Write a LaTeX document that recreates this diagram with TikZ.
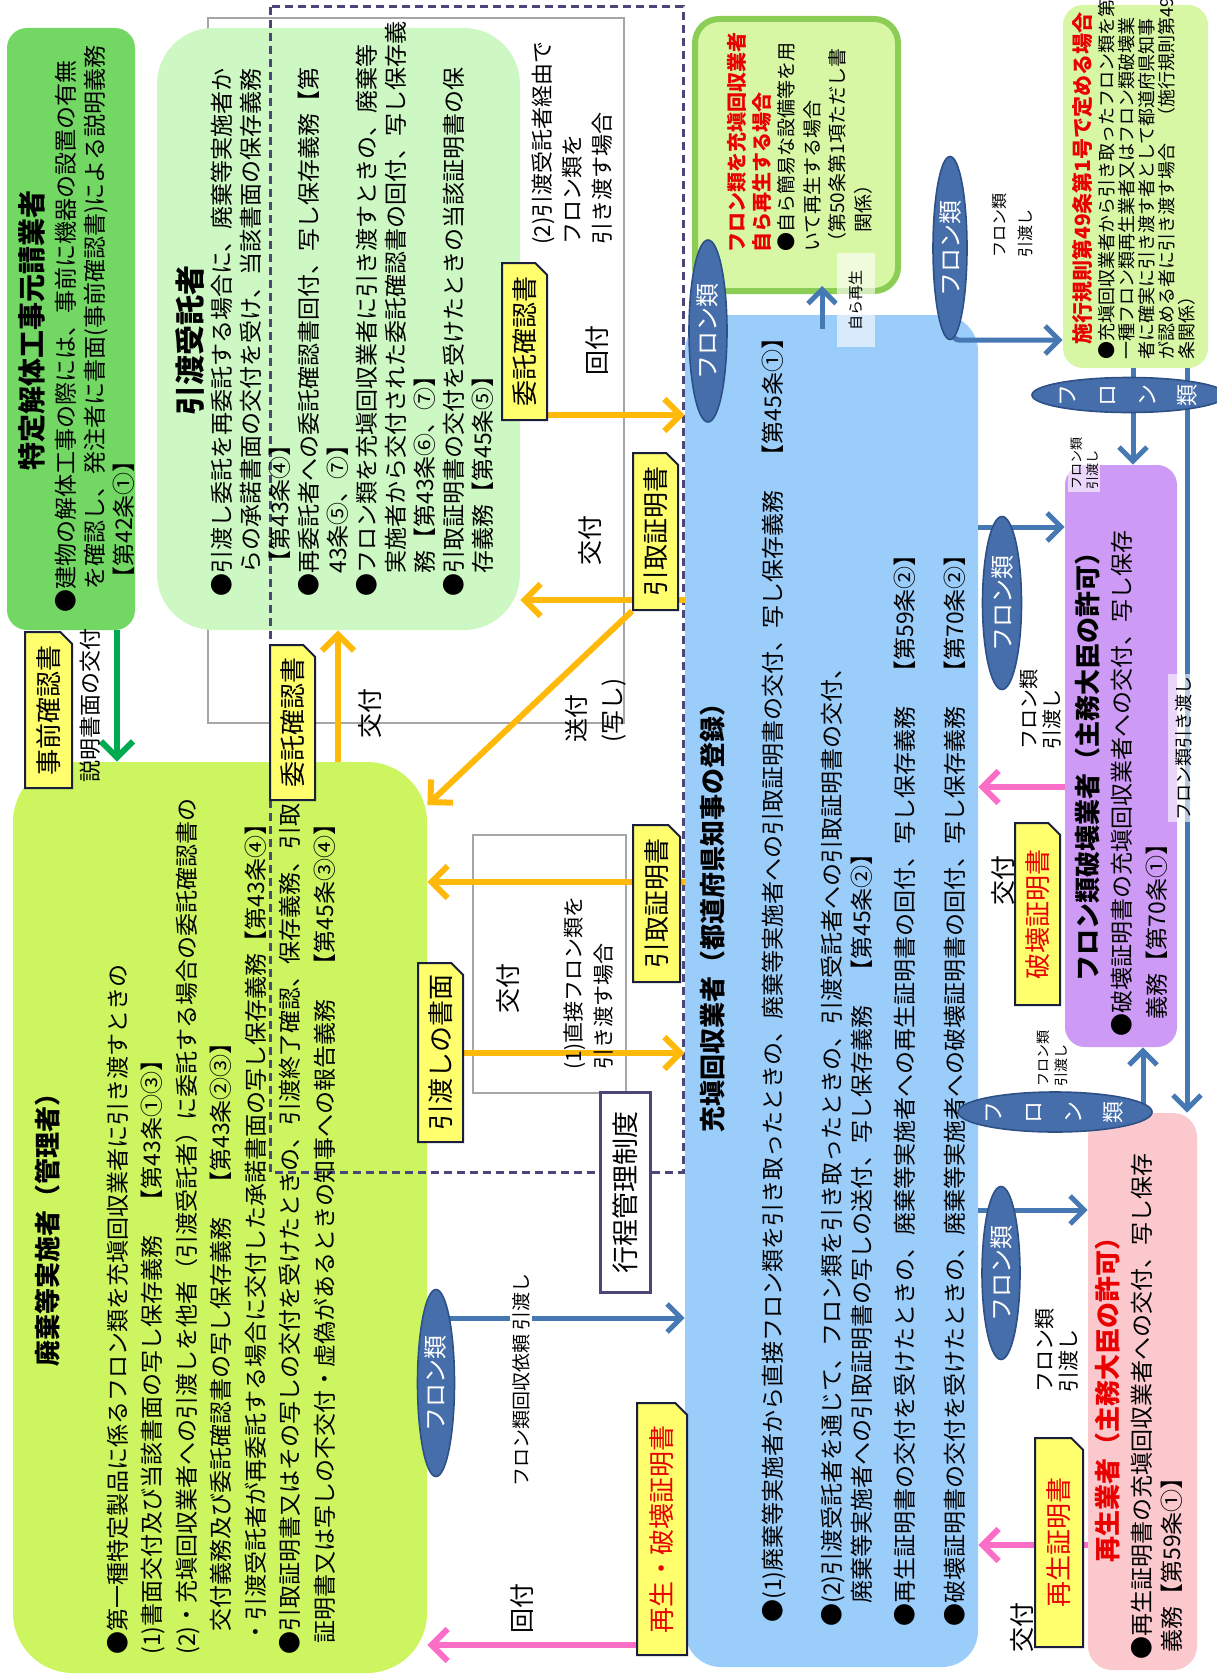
\documentclass[tikz,border=0pt]{standalone}
\usepackage{fontspec}
\newfontfamily\jp{Noto Sans CJK JP}
\usetikzlibrary{positioning,fit,shapes.geometric,shapes.misc,arrows.meta}

\definecolor{motoukeG}{RGB}{115,215,100}
\definecolor{jutakuG}{RGB}{205,248,195}
\definecolor{haikiG}{RGB}{205,245,95}
\definecolor{kaishuB}{RGB}{155,205,250}
\definecolor{jisaiG}{RGB}{215,247,165}
\definecolor{jisaiL}{RGB}{140,205,85}
\definecolor{hakaiP}{RGB}{205,155,245}
\definecolor{saiseiP}{RGB}{250,200,205}
\definecolor{noteY}{RGB}{255,255,110}
\definecolor{noteL}{RGB}{25,30,60}
\definecolor{arrO}{RGB}{255,185,10}
\definecolor{arrB}{RGB}{70,120,180}
\definecolor{arrP}{RGB}{250,110,200}
\definecolor{arrG}{RGB}{0,170,80}
\definecolor{ellB}{RGB}{70,110,170}
\definecolor{ellL}{RGB}{45,80,135}
\definecolor{dashL}{RGB}{75,70,120}
\definecolor{redT}{RGB}{235,0,0}

\begin{document}
\begin{tikzpicture}[x=0.5pt,y=-0.5pt,
	box/.style={inner sep=0pt, rounded corners=#1},
	txt/.style={rotate=90, inner sep=0pt, align=left, anchor=north west},
	ttl/.style={rotate=90, inner sep=0pt, font=\jp\bfseries\fontsize{13}{15}\selectfont},
	lab/.style={rotate=90, inner sep=0pt, font=\jp\fontsize{12.5}{14}\selectfont},
	note/.style={rotate=90, chamfered rectangle, chamfered rectangle corners=south east,
		chamfered rectangle xsep=3pt, draw=noteL, fill=noteY, line width=1pt,
		inner sep=0pt, font=\jp\fontsize{13}{15}\selectfont},
	flon/.style={ellipse, rotate=90, fill=ellB, draw=ellL, line width=0.8pt,
		text=white, inner sep=0pt, font=\jp\fontsize{12}{14}\selectfont},
	veil/.style={fill=white, fill opacity=0.6, text opacity=1, inner sep=1pt},
	oarr/.style={draw=arrO, line width=3pt, -{Straight Barb[length=8pt,width=16pt]}},
	barr/.style={draw=arrB, line width=2.5pt, -{Straight Barb[length=7pt,width=14pt]}},
	parr/.style={draw=arrP, line width=3pt, -{Straight Barb[length=8pt,width=16pt]}},
	garr/.style={draw=arrG, line width=3pt, -{Straight Barb[length=8pt,width=16pt]}}]
	\useasboundingbox (0,0) rectangle (1216,1675);
	
	% thin frames of the two cases
	\draw[gray!70, line width=0.6pt] (208,18) rectangle (624,723);
	\draw[gray!70, line width=0.6pt] (473,835) rectangle (626,1093);
	
	% boxes
	\node[box=10pt, fill=motoukeG, fit={(7,28) (135,630)}] (motouke) {};
	\node[box=28pt, fill=jutakuG, fit={(157,28) (520,630)}] (jutaku) {};
	\node[box=30pt, fill=haikiG, fit={(13,762) (427,1673)}] (haiki) {};
	\node[box=18pt, fill=kaishuB, fit={(685,315) (978,1667)}] (kaishu) {};
	\node[box=12pt, fill=jisaiG, draw=jisaiL, line width=3pt, fit={(695,19) (898,291)}] (jisai) {};
	\node[box=10pt, fill=jisaiG, fit={(1063,5) (1208,368)}] (sekou) {};
	\node[box=10pt, fill=hakaiP, fit={(1065,465) (1177,1047)}] (hakai) {};
	\node[box=12pt, fill=saiseiP, fit={(1088,1113) (1197,1670)}] (saisei) {};
	
	\draw[dashL, line width=1.5pt, dash pattern=on 4pt off 2.5pt] (270,7) rectangle (683,1172);
	
	% texts of the boxes
	\node[ttl, font=\jp\bfseries\fontsize{14}{16}\selectfont] (motoukeT) at (32,330) {特定解体工事元請業者};
	\node[txt, font=\jp\fontsize{11.5}{14.5}\selectfont] (motoukeB) at (54.5,613)
		{●建物の解体工事の際には、事前に機器の設置の有無\\
		　を確認し、発注者に書面(事前確認書)による説明義務\\
		　【第42条①】};
	
	\node[ttl, font=\jp\bfseries\fontsize{15}{17}\selectfont] (jutakuT) at (190,340) {引渡受託者};
	\node[txt, font=\jp\fontsize{11.5}{14.5}\selectfont] (jutakuB) at (210.5,597)
		{●引渡し委託を再委託する場合に、廃棄等実施者か\\
		　らの承諾書面の交付を受け、当該書面の保存義務\\
		　【第43条④】\\
		●再委託者への委託確認書回付、写し保存義務【第\\
		　43条⑤、⑦】\\
		●フロン類を充塡回収業者に引き渡すときの、廃棄等\\
		　実施者から交付された委託確認書の回付、写し保存義\\
		　務【第43条⑥、⑦】\\
		●引取証明書の交付を受けたときの当該証明書の保\\
		　存義務【第45条⑤】};
	
	\node[ttl] (haikiT) at (48,1223) {廃棄等実施者（管理者）};
	\node[txt, font=\jp\fontsize{11.5}{17.25}\selectfont] (haikiB) at (106.5,1655)
		{●第一種特定製品に係るフロン類を充塡回収業者に引き渡すときの\\
		(1)書面交付及び当該書面の写し保存義務　【第43条①③】\\
		(2)・充塡回収業者への引渡しを他者（引渡受託者）に委託する場合の委託確認書の\\
		　交付義務及び委託確認書の写し保存義務　【第43条②③】\\
		\hspace*{0.5em}・引渡受託者が再委託する場合に交付した承諾書面の写し保存義務【第43条④】\\
		●引取証明書又はその写しの交付を受けたときの、引渡終了確認、保存義務、引取\\
		\hspace*{0.5em}証明書又は写しの不交付・虚偽があるときの知事への報告義務　【第45条③④】};
	
	\node[ttl] (kaishuT) at (713,911) {充塡回収業者（都道府県知事の登録）};
	\node[txt, font=\jp\fontsize{11.5}{15}\selectfont] (kaishuB1) at (761.5,1623)
		{●(1)廃棄等実施者から直接フロン類を引き取ったときの、廃棄等実施者への引取証明書の交付、写し保存義務　【第45条①】};
	\node[txt, font=\jp\fontsize{11.5}{15}\selectfont] (kaishuB2) at (820.5,1627)
		{●(2)引渡受託者を通じて、フロン類を引き取ったときの、引渡受託者への引取証明書の交付、\\
		　廃棄等実施者への引取証明書の写しの送付、写し保存義務　【第45条②】};
	\node[txt, font=\jp\fontsize{11.5}{15}\selectfont] (kaishuB3) at (893.5,1627)
		{●再生証明書の交付を受けたときの、廃棄等実施者への再生証明書の回付、写し保存義務　【第59条②】};
	\node[txt, font=\jp\fontsize{11.5}{15}\selectfont] (kaishuB4) at (943.5,1627)
		{●破壊証明書の交付を受けたときの、廃棄等実施者への破壊証明書の回付、写し保存義務　【第70条②】};
	
	\node[txt, text=redT, font=\jp\bfseries\fontsize{10}{12.5}\selectfont] (jisaiT) at (727,253)
		{フロン類を充塡回収業者\\自ら再生する場合};
	\node[txt, font=\jp\fontsize{9.5}{12.7}\selectfont] (jisaiB) at (777.5,252)
		{●自ら簡易な設備等を用\\いて再生する場合\\（第50条第1項ただし書\\　関係）};
	
	\node[txt, text=redT, font=\jp\bfseries\fontsize{10.5}{12.5}\selectfont] (sekouT) at (1071.5,345)
		{施行規則第49条第1号で定める場合};
	\node[txt, font=\jp\fontsize{9}{10}\selectfont] (sekouB) at (1098,360)
		{●充塡回収業者から引き取ったフロン類を第\\
		一種フロン類再生業者又はフロン類破壊業\\
		者に確実に引き渡す者として都道府県知事\\
		が認める者に引き渡す場合　（施行規則第49\\
		条関係）};
	
	\node[ttl] (hakaiT) at (1088,760) {フロン類破壊業者（主務大臣の許可）};
	\node[txt, font=\jp\fontsize{11.5}{17.5}\selectfont] (hakaiB) at (1110.5,1037)
		{●破壊証明書の充塡回収業者への交付、写し保存\\
		\hspace*{0.75em}義務【第70条①】};
	
	\node[ttl, text=redT] (saiseiT) at (1108,1393) {再生業者（主務大臣の許可）};
	\node[txt, font=\jp\fontsize{11.5}{15}\selectfont] (saiseiB) at (1130.5,1660)
		{●再生証明書の充塡回収業者への交付、写し保存\\
		\hspace*{0.3em}義務【第59条①】};
	
	% connectors
	\draw[garr] (motouke.south -| 117,0) -- (haiki.north -| 117,0);
	\draw[oarr] (haiki.north -| 338,0) -- (jutaku.south -| 338,0);
	\draw[oarr] (jutaku.east |- 0,415) -- (kaishu.west |- 0,415);
	\draw[oarr] (kaishu.west |- 0,600) -- (jutaku.east |- 0,600);
	\draw[oarr] (kaishu.west |- 0,882) -- (haiki.east |- 0,882);
	\draw[oarr] (haiki.east |- 0,1053) -- (kaishu.west |- 0,1053);
	\draw[barr] (haiki.east |- 0,1318) -- (kaishu.west |- 0,1318);
	\draw[parr] (kaishu.west |- 0,1645) -- (haiki.east |- 0,1645);
	\draw[barr] ([yshift=-7pt]kaishu.north -| 822,0) -- ([yshift=4pt]jisai.south -| 822,0);
	\draw[barr, rounded corners=3pt] (kaishu.north -| 953,0) |- (sekou.west |- 0,340);
	\draw[barr] (kaishu.east |- 0,527) -- (hakai.west |- 0,527);
	\draw[barr] (kaishu.east |- 0,1210) -- (saisei.west |- 0,1210);
	\draw[barr] (sekou.south -| 1133,0) -- (hakai.north -| 1133,0);
	\draw[barr] (sekou.south -| 1187,0) -- (saisei.north -| 1187,0);
	\draw[barr] (saisei.north -| 1143,0) -- (hakai.south -| 1143,0);
	\draw[parr] (hakai.west |- 0,787) -- (kaishu.east |- 0,787);
	\draw[parr] (saisei.west |- 0,1545) -- (kaishu.east |- 0,1545);
	
	% documents
	\node[note, minimum width=78pt, minimum height=23.5pt] (maekaku) at (48.5,710) {事前確認書};
	\node[note, minimum width=77.5pt, minimum height=22.5pt] (itaku1) at (292.5,722.5) {委託確認書};
	\node[note, minimum width=78.5pt, minimum height=22.5pt] (itaku2) at (524.5,341.5) {委託確認書};
	\node[note, minimum width=78.5pt, minimum height=22.5pt] (tori1) at (655.5,531.5) {引取証明書};
	\node[note, minimum width=78.5pt, minimum height=23.5pt] (tori2) at (656.5,903.5) {引取証明書};
	\node[note, minimum width=89.5pt, minimum height=22.5pt] (shomen) at (440.5,1052.5) {引渡しの書面};
	\node[note, text=redT, minimum width=126pt, minimum height=25pt] (saihaK) at (662,1529) {再生・破壊証明書};
	\node[note, text=redT, minimum width=91pt, minimum height=22.5pt] (hakaiK) at (1037.5,914) {破壊証明書};
	\node[note, text=redT, minimum width=104.5pt, minimum height=24pt] (saiseiK) at (1059,1542.5) {再生証明書};
	
	\draw[oarr] (tori1.north west) -- (haiki.east |- 0,805);
	
	% flon ellipses
	\node[flon, minimum width=91pt, minimum height=19pt] (fl1) at (708,331) {フロン類};
	\node[flon, minimum width=91.5pt, minimum height=17pt] (fl2) at (950,248) {フロン類};
	\node[flon, align=center, minimum width=17.5pt, minimum height=84pt,
		font=\jp\fontsize{11}{20}\selectfont] (fl3) at (1129,395) {フ\\ロ\\ン\\類};
	\node[flon, align=center, minimum width=20pt, minimum height=85pt,
		font=\jp\fontsize{11}{20}\selectfont] (fl4) at (1055,1112) {フ\\ロ\\ン\\類};
	\node[flon, minimum width=86.5pt, minimum height=19.5pt] (fl5) at (1002,603) {フロン類};
	\node[flon, minimum width=86.5pt, minimum height=19pt] (fl6) at (1001,1273) {フロン類};
	\node[flon, minimum width=93.5pt, minimum height=18.5pt] (fl7) at (436,1383) {フロン類};
	
	% labels of the connectors
	\node[lab, font=\jp\fontsize{11}{13}\selectfont] (setsumei) at (90,705) {説明書面の交付};
	\node[lab] (kofu1) at (370,713) {交付};
	\node[txt, font=\jp\fontsize{11}{15}\selectfont] (case2) at (532,245)
		{(2)引渡受託者経由で\\フロン類を\\引き渡す場合};
	\node[lab] (kaifu1) at (597,350) {回付};
	\node[lab] (kofu2) at (590,540) {交付};
	\node[txt, font=\jp\fontsize{12}{18}\selectfont] (sofu) at (565,743) {送付\\(写し)};
	\node[lab] (kofu3) at (508,988) {交付};
	\node[txt, font=\jp\fontsize{10.5}{15}\selectfont] (case1) at (563,1070)
		{(1)直接フロン類を\\引き渡す場合};
	\node[lab, fill=white, inner sep=1pt, font=\jp\fontsize{9.5}{11}\selectfont] (irai) at (521,1380) {フロン類回収依頼 引渡し};
	\node[lab] (kaifu2) at (522,1608) {回付};
	\node[lab] (kofu4) at (1003,880) {交付};
	\node[lab] (kofu5) at (1022,1627) {交付};
	\node[lab, veil, minimum width=47pt, minimum height=19pt, font=\jp\fontsize{7.5}{9}\selectfont] (jisaisei) at (856,300) {自ら再生};
	\node[lab, veil, minimum width=74pt, minimum height=16.5pt, font=\jp\fontsize{9}{11}\selectfont] (hikiwatashi) at (1184,748) {フロン類引き渡し};
	\node[txt, veil, align=left, font=\jp\fontsize{6.5}{8}\selectfont] (w3) at (1068,492) {フロン類\\引渡し};
	\node[txt, font=\jp\fontsize{8}{13}\selectfont] (w2) at (992,258) {フロン類\\引渡し};
	\node[txt, font=\jp\fontsize{10}{11.5}\selectfont] (w5) at (1020,750) {フロン類\\引渡し};
	\node[txt, font=\jp\fontsize{10.5}{12}\selectfont] (w6) at (1035,1393) {フロン類\\引渡し};
	\node[txt, font=\jp\fontsize{7}{9}\selectfont] (w4) at (1036,1087) {フロン類\\引渡し};
	
	\node[rotate=90, draw=dashL, fill=white, line width=1.5pt, minimum width=100pt, minimum height=25pt,
		font=\jp\fontsize{13.5}{15}\selectfont] (kotei) at (625,1192) {行程管理制度};
\end{tikzpicture}
\end{document}
